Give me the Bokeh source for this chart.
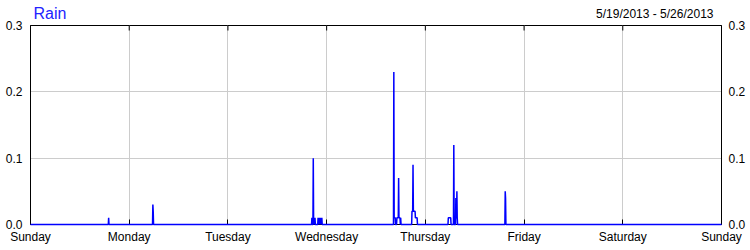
import math
import pandas as pd
from bokeh.plotting import figure
from bokeh.layouts import column
from bokeh.models import (LinearAxis, FixedTicker, PrintfTickFormatter, Range1d)
from bokeh.core.properties import value
from bokeh.embed import file_html
from bokeh.resources import INLINE

# ---- data ----
title_text = "Rain"
date_text = "5/19/2013 - 5/26/2013"
day_labels = ["Sunday", "Monday", "Tuesday", "Wednesday", "Thursday", "Friday", "Saturday", "Sunday"]
y_ticks = [0.0, 0.1, 0.2, 0.3]
start_time = "2013-05-19 00:00"

rain_time = [
    "2013-05-19 00:00",
    "2013-05-19 18:55", "2013-05-19 19:00", "2013-05-19 19:05",
    "2013-05-20 05:40", "2013-05-20 05:45", "2013-05-20 05:50", "2013-05-20 05:55",
    "2013-05-21 20:20", "2013-05-21 20:25", "2013-05-21 20:30", "2013-05-21 20:40",
    "2013-05-21 20:45", "2013-05-21 20:50", "2013-05-21 20:55", "2013-05-21 21:00",
    "2013-05-21 21:10", "2013-05-21 21:15", "2013-05-21 21:50", "2013-05-21 21:55",
    "2013-05-21 22:00", "2013-05-21 22:10", "2013-05-21 22:15", "2013-05-21 22:30",
    "2013-05-21 22:35", "2013-05-21 22:50", "2013-05-21 22:55",
    "2013-05-22 16:15", "2013-05-22 16:20", "2013-05-22 16:25", "2013-05-22 16:40",
    "2013-05-22 16:45", "2013-05-22 17:00", "2013-05-22 17:05", "2013-05-22 17:25",
    "2013-05-22 17:30", "2013-05-22 17:35", "2013-05-22 17:50", "2013-05-22 17:55",
    "2013-05-22 18:00", "2013-05-22 18:05",
    "2013-05-22 20:40", "2013-05-22 20:45", "2013-05-22 20:55", "2013-05-22 21:00",
    "2013-05-22 21:05", "2013-05-22 21:30", "2013-05-22 21:35", "2013-05-22 22:00",
    "2013-05-22 22:05",
    "2013-05-23 05:30", "2013-05-23 05:35", "2013-05-23 06:10", "2013-05-23 06:15",
    "2013-05-23 06:50", "2013-05-23 06:55", "2013-05-23 07:00", "2013-05-23 07:20",
    "2013-05-23 07:25", "2013-05-23 07:30", "2013-05-23 07:35", "2013-05-23 07:40",
    "2013-05-23 07:45", "2013-05-23 07:50",
    "2013-05-23 19:20", "2013-05-23 19:25", "2013-05-23 19:30", "2013-05-23 19:35",
    "2013-05-26 00:00",
]
rain_value = [
    0.0,
    0.0, 0.01, 0.0,
    0.0, 0.03, 0.02, 0.0,
    0.0, 0.01, 0.0, 0.0,
    0.10, 0.0, 0.01, 0.0,
    0.01, 0.0, 0.0, 0.01,
    0.0, 0.01, 0.0, 0.01,
    0.0, 0.01, 0.0,
    0.0, 0.23, 0.01, 0.01,
    0.0, 0.0, 0.01, 0.01,
    0.07, 0.01, 0.01, 0.0,
    0.01, 0.0,
    0.0, 0.02, 0.02, 0.09,
    0.02, 0.02, 0.01, 0.01,
    0.0,
    0.0, 0.01, 0.01, 0.0,
    0.0, 0.12, 0.0, 0.0,
    0.04, 0.01, 0.01, 0.05,
    0.01, 0.0,
    0.0, 0.05, 0.04, 0.0,
    0.0,
]

t0 = pd.Timestamp(start_time)
hours = [(pd.Timestamp(t) - t0).total_seconds() / 3600.0 for t in rain_time]
n_days = len(day_labels) - 1
day_ticks = [24 * i for i in range(n_days + 1)]
y_top = y_ticks[-1]

FONT = "Liberation Sans"
LEFT, RIGHT = 30, 29
HEAD_H = 20

# ---- header strip with the two titles (pixel coordinates inside its frame) ----
head = figure(width=750, height=HEAD_H, output_backend="svg", toolbar_location=None,
              x_range=Range1d(LEFT, 750 - RIGHT), y_range=Range1d(HEAD_H, 0),
              x_axis_location=None, y_axis_location=None,
              min_border_left=LEFT, min_border_right=RIGHT, min_border_top=0, min_border_bottom=0)
head.grid.visible = False
head.outline_line_color = None
head.text(x=[33], y=[12.5], text=[title_text], text_color="#2222ff",
          text_font=value(FONT), text_font_size="16px",
          text_baseline="alphabetic", text_align="left")
head.text(x=[713], y=[13.0], text=[date_text], text_color="black",
          text_font=value(FONT), text_font_size="12px",
          text_baseline="alphabetic", text_align="right")

# ---- main chart ----
p = figure(width=750, height=250 - HEAD_H, output_backend="svg", toolbar_location=None,
           x_range=Range1d(0, 24 * n_days), y_range=Range1d(0, y_top),
           min_border_left=LEFT, min_border_right=RIGHT, min_border_top=25 - HEAD_H,
           min_border_bottom=26, x_axis_location="below", y_axis_location="left")
p.outline_line_color = "black"
p.outline_line_width = 1

xa = p.xaxis[0]
xa.ticker = FixedTicker(ticks=day_ticks)
xa.major_label_overrides = {t: lab for t, lab in zip(day_ticks, day_labels)}
xa.major_tick_in = 5
xa.major_tick_out = 0
xa.minor_tick_in = 0
xa.minor_tick_out = 0
xa.major_label_standoff = 5
xa.major_label_text_font = FONT
xa.major_label_text_font_size = "12px"
xa.major_label_text_color = "black"
xa.axis_line_color = "black"

ya = p.yaxis[0]
ya.ticker = FixedTicker(ticks=y_ticks)
ya.formatter = PrintfTickFormatter(format="%.1f")
ya.major_tick_in = 0
ya.major_tick_out = 0
ya.minor_tick_in = 0
ya.minor_tick_out = 0
ya.major_label_standoff = 8
ya.major_label_text_font = FONT
ya.major_label_text_font_size = "12px"
ya.major_label_text_color = "black"
ya.axis_line_color = "black"

ra = LinearAxis(ticker=FixedTicker(ticks=y_ticks), formatter=PrintfTickFormatter(format="%.1f"),
                major_tick_in=0, major_tick_out=0, minor_tick_in=0, minor_tick_out=0,
                major_label_standoff=7, major_label_text_font=FONT,
                major_label_text_font_size="12px", major_label_text_color="black",
                axis_line_color="black")
p.add_layout(ra, "right")

p.xgrid.ticker = FixedTicker(ticks=day_ticks)
p.ygrid.ticker = FixedTicker(ticks=y_ticks)
p.xgrid.grid_line_color = "#cccccc"
p.ygrid.grid_line_color = "#cccccc"

# inward tick marks on the top edge (half of each dash is clipped by the frame)
p.scatter(x=day_ticks, y=[y_top] * len(day_ticks), marker="dash", angle=math.pi / 2,
          size=10, line_color="black", line_width=1)

p.line(hours, rain_value, line_color="#0000ff", line_width=1.5, level="overlay")

layout = column(head, p, spacing=0)
open("out.html", "w").write(file_html(layout, INLINE))
